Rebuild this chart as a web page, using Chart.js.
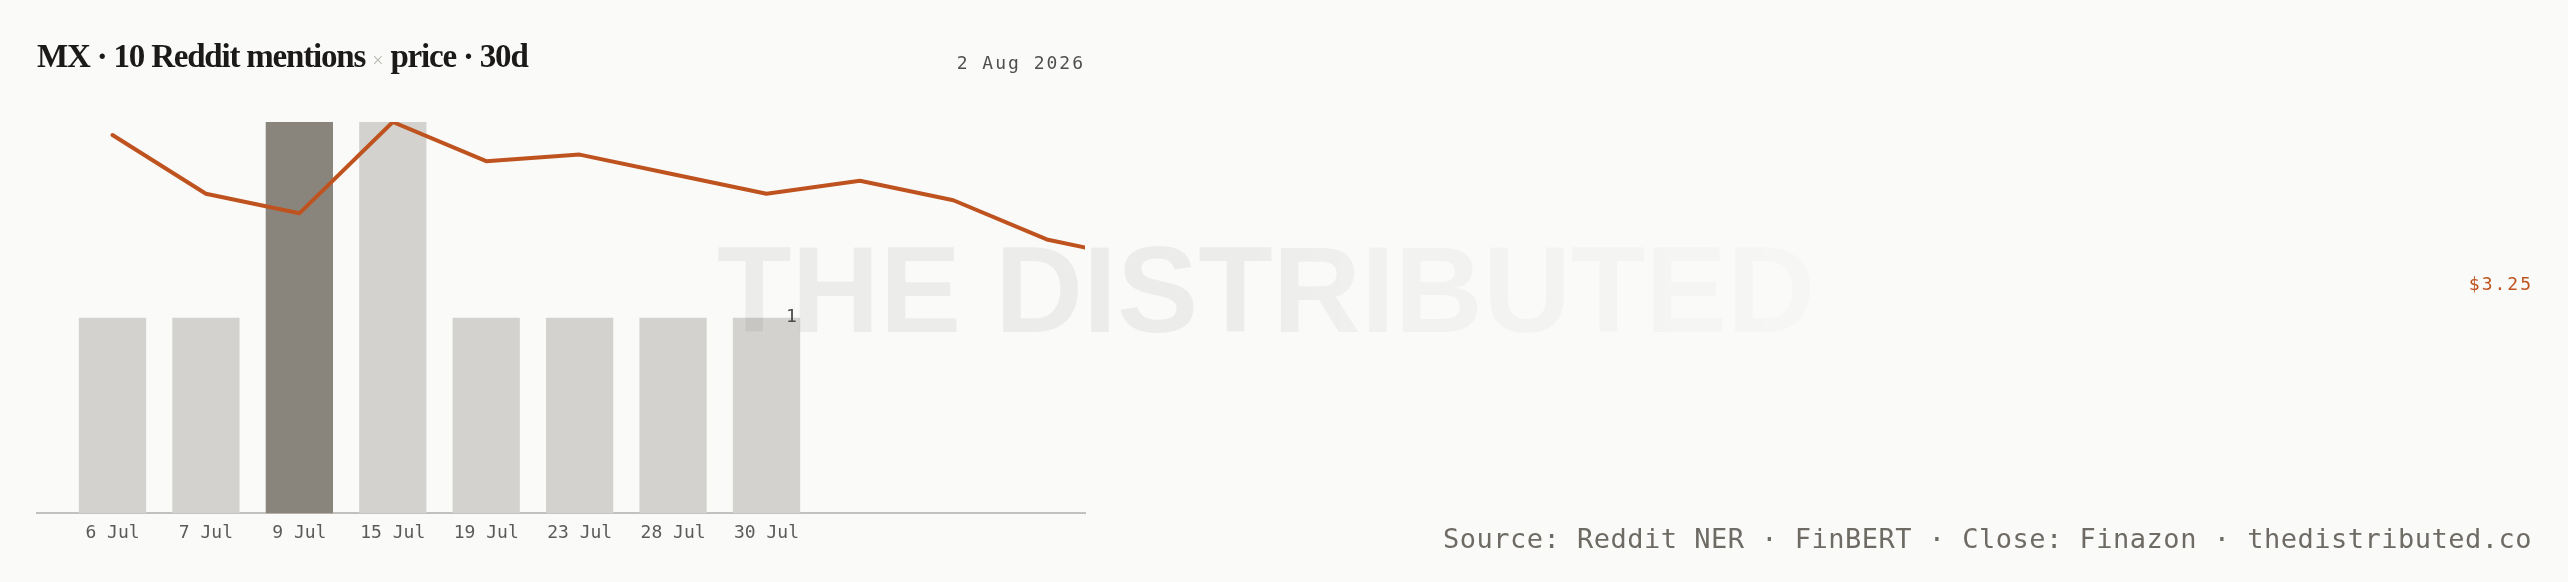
<!DOCTYPE html>
<html>
<head>
<meta charset="utf-8">
<script src="https://cdn.jsdelivr.net/npm/chart.js@4.4.1/dist/chart.umd.min.js"></script>
<style>
  html, body { margin: 0; padding: 0; background: #fafaf8; }
  #wrap { position: relative; width: 2568px; height: 582px; background: #fafaf8; overflow: hidden; }
  #chartBox { position: absolute; left: 0; top: 0; width: 2568px; height: 582px; }
  #title { position: absolute; left: 37px; top: 40px; font-family: "Liberation Serif", serif; font-weight: 700;
           font-size: 33px; line-height: 1; letter-spacing: -1.2px; color: #1b1a18; white-space: nowrap; }
  #title .x { color: #b9b8b4; font-weight: 400; font-size: 20px; letter-spacing: 0; }
  #date { position: absolute; right: 1483px; top: 54px; font-family: "DejaVu Sans Mono", monospace; font-size: 18px;
          line-height: 1; letter-spacing: 2px; color: #4f4f4d; white-space: nowrap; }
  #source { position: absolute; right: 36px; top: 525px; font-family: "DejaVu Sans Mono", monospace; font-size: 27px;
            line-height: 1; letter-spacing: 0.5px; color: #6e6b64; white-space: nowrap; }
  #mark { position: absolute; left: 717px; top: 229px; font-family: "Liberation Sans", Arial, sans-serif; font-weight: 700;
          font-size: 122px; line-height: 1; color: rgba(0,0,0,0.056); white-space: nowrap; pointer-events: none;
          -webkit-mask-image: linear-gradient(to right, #000 0%, #000 48%, rgba(0,0,0,0.6) 62%, rgba(0,0,0,0.28) 100%);
          mask-image: linear-gradient(to right, #000 0%, #000 48%, rgba(0,0,0,0.6) 62%, rgba(0,0,0,0.28) 100%); }
</style>
</head>
<body>
<div id="wrap">
  <div id="chartBox"><canvas id="c"></canvas></div>
  <div id="title">MX · 10 Reddit mentions <span class="x">×</span> price · 30d</div>
  <div id="date">2 Aug 2026</div>
  <div id="mark">THE DISTRIBUTED</div>
  <div id="source">Source: Reddit NER · FinBERT · Close: Finazon · thedistributed.co</div>
</div>
<script>
// ---- data ----
const categories = ["6 Jul", "7 Jul", "9 Jul", "15 Jul", "19 Jul", "23 Jul", "28 Jul", "30 Jul"];
const mentions = [1, 1, 2, 2, 1, 1, 1, 1];
const highlightIndex = 2;
const prices = [3.48, 3.39, 3.36, 3.50, 3.44, 3.45, 3.42, 3.39, 3.41, 3.38, 3.32, 3.29, 3.25];
const countTicks = [1];
const lastPrice = prices[prices.length - 1];

// ---- styles ----
const barColor = "#d3d2ce";
const barHighlight = "#8a857c";
const lineColor = "#bf531f";
const mono = '"DejaVu Sans Mono", monospace';

const barData = mentions.map((v, i) => ({ x: i, y: v }));
const lineData = prices.map((v, i) => ({ x: i, y: v }));
const barColors = mentions.map((_, i) => i === highlightIndex ? barHighlight : barColor);

const sideLabels = {
  id: "sideLabels",
  afterDatasetsDraw(chart) {
    const { ctx, scales } = chart;
    ctx.save();
    ctx.font = "18px " + mono;
    ctx.textBaseline = "middle";
    ctx.fillStyle = "#4a4a48";
    ctx.textAlign = "left";
    countTicks.forEach(v => ctx.fillText(String(v), 786, scales.y.getPixelForValue(v)));
    ctx.fillStyle = lineColor;
    ctx.textAlign = "right";
    try { ctx.letterSpacing = "2px"; } catch (e) {}
    ctx.fillText("$" + lastPrice.toFixed(2), chart.width - 35, scales.y2.getPixelForValue(lastPrice));
    ctx.restore();
  }
};

new Chart(document.getElementById("c"), {
  data: {
    datasets: [
      {
        type: "line",
        data: lineData,
        yAxisID: "y2",
        borderColor: lineColor,
        borderWidth: 4,
        pointRadius: 0,
        tension: 0,
        borderCapStyle: "round",
        borderJoinStyle: "round",
        clip: 0,
        order: 0
      },
      {
        type: "bar",
        data: barData,
        yAxisID: "y",
        backgroundColor: barColors,
        borderWidth: 0,
        categoryPercentage: 0.8,
        barPercentage: 0.9,
        order: 1
      }
    ]
  },
  plugins: [sideLabels],
  options: {
    responsive: true,
    maintainAspectRatio: false,
    animation: false,
    layout: { padding: { left: 37, right: 1483, top: 122, bottom: 29 } },
    plugins: { legend: { display: false }, tooltip: { enabled: false } },
    scales: {
      x: {
        type: "linear",
        offset: false,
        min: -0.808,
        max: 10.409,
        grid: { display: false, drawTicks: false },
        border: { display: true, color: "#c2c1bd", width: 2 },
        afterBuildTicks: axis => { axis.ticks = categories.map((_, i) => ({ value: i })); },
        ticks: {
          autoSkip: false,
          maxRotation: 0,
          padding: 9,
          color: "#5a5a58",
          font: { family: mono, size: 18 },
          callback: v => categories[v] ?? ""
        }
      },
      y: {
        display: false,
        min: 0,
        max: 2
      },
      y2: {
        display: false,
        min: 2.9,
        max: 3.5
      }
    }
  }
});
</script>
</body>
</html>
